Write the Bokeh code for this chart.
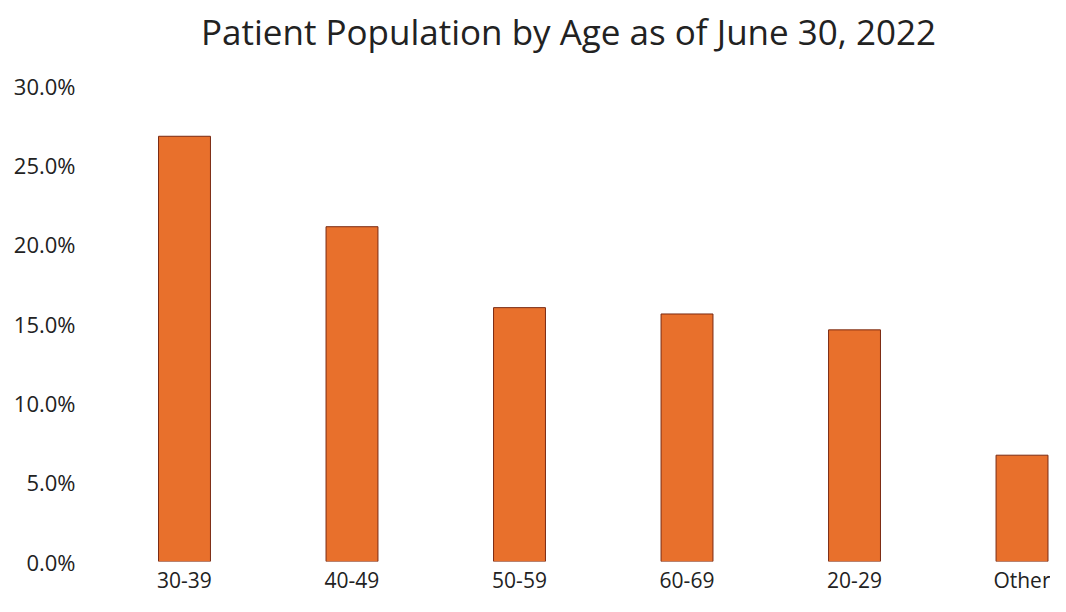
from bokeh.plotting import figure
from bokeh.models import Range1d, FixedTicker, ColumnDataSource, Title
from bokeh.embed import file_html
from bokeh.resources import INLINE

categories = ["30-39", "40-49", "50-59", "60-69", "20-29", "Other"]
shares = [26.8, 21.1, 16.0, 15.6, 14.6, 6.7]
y_ticks = [0, 5, 10, 15, 20, 25, 30]
title_text = "Patient Population by Age as of June 30, 2022"

xs = list(range(len(categories)))
src = ColumnDataSource(dict(x=xs, top=shares, cat=categories))

p = figure(width=1050, height=596, output_backend="svg", toolbar_location=None,
           x_range=Range1d(-0.585, 5.17), y_range=Range1d(0, 30),
           min_border_left=86, min_border_right=0, min_border_top=85,
           min_border_bottom=31)
p.title.text = ""

# spacer panel between frame and title
spacer = Title(text=" ", text_font_size="10px", standoff=18)
p.add_layout(spacer, "above")
main_title = Title(text=title_text, text_font="Open Sans", text_font_style="normal",
                   text_font_size="35px", text_color="#222222", align="center",
                   standoff=0)
p.add_layout(main_title, "above")

p.vbar(x="x", top="top", bottom=0, width=0.31, source=src,
       fill_color="#E8702C", line_color="#7A2A12", line_width=1)

p.xaxis.ticker = FixedTicker(ticks=xs)
p.xaxis.major_label_overrides = {i: c for i, c in zip(xs, categories)}
p.yaxis.ticker = FixedTicker(ticks=y_ticks)
p.yaxis.major_label_overrides = {t: f"{t:.1f}%" for t in y_ticks}

for ax in (p.xaxis, p.yaxis):
    ax.axis_line_color = None
    ax.major_tick_line_color = None
    ax.minor_tick_line_color = None
    ax.major_tick_out = 0
    ax.major_tick_in = 0
    ax.minor_tick_out = 0
    ax.major_label_text_font = "Open Sans"
    ax.major_label_text_color = "#222222"

p.xaxis.major_label_text_font_size = "21px"
p.yaxis.major_label_text_font_size = "22px"
p.xaxis.major_label_standoff = 4
p.yaxis.major_label_standoff = 11

p.xgrid.grid_line_color = None
p.ygrid.grid_line_color = None
p.outline_line_color = None
p.background_fill_color = "white"
p.border_fill_color = "white"

open("out.html", "w").write(file_html(p, INLINE))
